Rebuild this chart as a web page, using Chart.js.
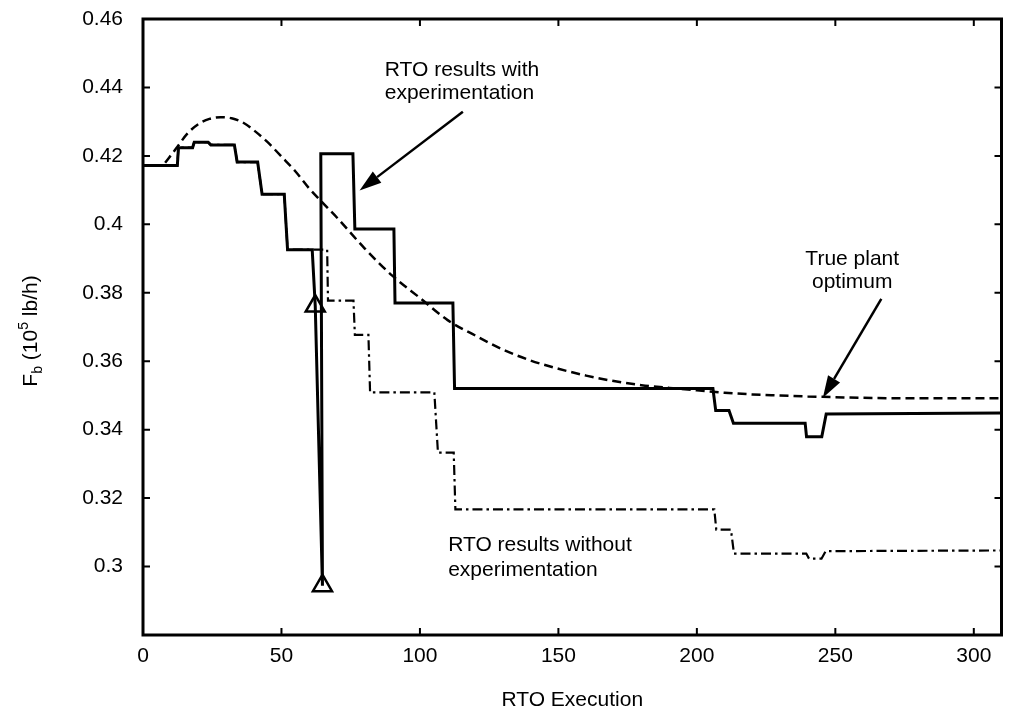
<!DOCTYPE html>
<html>
<head>
<meta charset="utf-8">
<title>RTO execution</title>
<script src="https://cdn.jsdelivr.net/npm/chart.js@4/dist/chart.umd.min.js"></script>
<style>
  body { margin: 0; background: #fff; }
  #wrap { width: 1015px; height: 717px; }
</style>
</head>
<body>
<div id="wrap"><canvas id="myChart" width="1015" height="717"></canvas></div>
<script>
const FONT = '"Liberation Sans", Arial, sans-serif';

// RTO results with experimentation (solid)
const withExpX = [0, 12.4, 12.8, 17.9, 18.5, 23.5, 24.5, 33, 34, 41.4, 43, 51, 52.2, 61.1, 62.2, 64.8, 64.2, 75.8, 76.5, 90.6, 91, 111.9, 112.5, 205.8, 206.8, 211.6, 213.2, 239.1, 239.6, 245.1, 246.7, 310];
const withExpY = [0.4172, 0.4172, 0.4224, 0.4224, 0.424, 0.424, 0.4232, 0.4232, 0.4182, 0.4182, 0.4088, 0.4088, 0.3926, 0.3926, 0.3761, 0.2944, 0.4206, 0.4206, 0.3986, 0.3986, 0.377, 0.377, 0.352, 0.352, 0.3456, 0.3456, 0.3419, 0.3419, 0.3379, 0.3379, 0.3446, 0.3449];

// RTO results without experimentation (dash-dot)
const noExpX = [0, 12.4, 12.8, 17.9, 18.5, 23.5, 24.5, 33, 34, 41.4, 43, 51, 52.2, 66.5, 66.8, 76, 76.5, 81.4, 82, 105.2, 106.5, 112.2, 112.8, 206.3, 207, 212.3, 213.4, 239.5, 240.5, 245, 246.5, 310];
const noExpY = [0.4172, 0.4172, 0.4224, 0.4224, 0.424, 0.424, 0.4232, 0.4232, 0.4182, 0.4182, 0.4088, 0.4088, 0.3926, 0.3926, 0.3777, 0.3777, 0.3677, 0.3677, 0.3509, 0.3509, 0.3333, 0.3333, 0.3167, 0.3167, 0.3108, 0.3108, 0.3038, 0.3038, 0.3023, 0.3023, 0.3045, 0.3047];

// true plant optimum (dashed)
const optX = [8, 12, 16, 20, 24, 28, 32, 36, 40, 45, 50, 55, 60, 65, 70, 80, 90, 100, 110, 120, 130, 140, 150, 160, 170, 180, 190, 200, 210, 220, 230, 240, 250, 260, 270, 280, 290, 300, 310];
const optY = [0.4180, 0.4222, 0.4265, 0.4293, 0.4308, 0.4313, 0.4310, 0.4298, 0.4275, 0.4240, 0.4198, 0.4155, 0.4105, 0.4062, 0.4020, 0.3930, 0.3850, 0.3785, 0.3720, 0.3675, 0.3634, 0.3602, 0.3578, 0.3558, 0.3542, 0.3530, 0.3522, 0.3515, 0.3508, 0.3503, 0.3500, 0.3497, 0.3495, 0.3493, 0.3492, 0.3492, 0.3492, 0.3492, 0.3492];

// experimentation points
const markerX = [62.2, 64.8];
const markerY = [0.3761, 0.2944];

// annotation text and arrows, in data units
const notes = [
    { lines: ['RTO results with', 'experimentation'], x: 87.3, y: [0.4434, 0.4367], align: 'left' },
    { lines: ['True plant', 'optimum'], x: 256.1, y: [0.3882, 0.3815], align: 'center' },
    { lines: ['RTO results without', 'experimentation'], x: 110.2, y: [0.3044, 0.2971], align: 'left' }
];
const arrows = [
    { from: [115.5, 0.4329], to: [78.2, 0.4099] },
    { from: [266.6, 0.3782], to: [245.5, 0.3493] }
];

function toPoints(xs, ys) {
    return xs.map((x, i) => ({ x, y: ys[i] }));
}

function drawArrow(ctx, x1, y1, x2, y2) {
    const ang = Math.atan2(y2 - y1, x2 - x1);
    const len = 22, half = 7;
    const bx = x2 - len * Math.cos(ang), by = y2 - len * Math.sin(ang);
    ctx.lineWidth = 2.5;
    ctx.beginPath();
    ctx.moveTo(x1, y1);
    ctx.lineTo(bx, by);
    ctx.stroke();
    ctx.beginPath();
    ctx.moveTo(x2, y2);
    ctx.lineTo(bx + half * Math.sin(ang), by - half * Math.cos(ang));
    ctx.lineTo(bx - half * Math.sin(ang), by + half * Math.cos(ang));
    ctx.closePath();
    ctx.fill();
}

const frame = {
    id: 'frame',
    afterDatasetsDraw(chart) {
        const { ctx, chartArea: a, scales: { x, y } } = chart;
        ctx.save();
        ctx.strokeStyle = '#000';
        ctx.fillStyle = '#000';

        // box and inward ticks
        ctx.lineWidth = 3;
        ctx.strokeRect(a.left, a.top, a.right - a.left, a.bottom - a.top);
        ctx.lineWidth = 2;
        ctx.beginPath();
        x.ticks.forEach(t => {
            const px = x.getPixelForValue(t.value);
            ctx.moveTo(px, a.bottom); ctx.lineTo(px, a.bottom - 7);
            ctx.moveTo(px, a.top); ctx.lineTo(px, a.top + 7);
        });
        y.ticks.forEach(t => {
            const py = y.getPixelForValue(t.value);
            ctx.moveTo(a.left, py); ctx.lineTo(a.left + 7, py);
            ctx.moveTo(a.right, py); ctx.lineTo(a.right - 7, py);
        });
        ctx.stroke();

        arrows.forEach(ar => {
            drawArrow(ctx,
                x.getPixelForValue(ar.from[0]), y.getPixelForValue(ar.from[1]),
                x.getPixelForValue(ar.to[0]), y.getPixelForValue(ar.to[1]));
        });

        ctx.font = '21px ' + FONT;
        ctx.textBaseline = 'alphabetic';
        notes.forEach(n => {
            ctx.textAlign = n.align;
            n.lines.forEach((s, i) => {
                ctx.fillText(s, x.getPixelForValue(n.x), y.getPixelForValue(n.y[i]));
            });
        });

        // y axis title with subscript and superscript
        const parts = [
            { t: 'F', size: 21, dy: 0 },
            { t: 'b', size: 14, dy: 5 },
            { t: ' (10', size: 21, dy: 0 },
            { t: '5', size: 14, dy: -9 },
            { t: ' lb/h)', size: 21, dy: 0 }
        ];
        let total = 0;
        parts.forEach(p => {
            ctx.font = p.size + 'px ' + FONT;
            p.w = ctx.measureText(p.t).width;
            total += p.w;
        });
        ctx.translate(36.5, (a.top + a.bottom) / 2 + 4);
        ctx.rotate(-Math.PI / 2);
        ctx.textAlign = 'left';
        let cx = -total / 2;
        parts.forEach(p => {
            ctx.font = p.size + 'px ' + FONT;
            ctx.fillText(p.t, cx, p.dy);
            cx += p.w;
        });
        ctx.restore();
    }
};

const ctx = document.getElementById('myChart').getContext('2d');
new Chart(ctx, {
    type: 'line',
    data: {
        datasets: [
            {
                label: 'markers',
                data: toPoints(markerX, markerY),
                showLine: false,
                pointStyle: 'triangle',
                pointRadius: 11,
                borderColor: '#000',
                backgroundColor: 'rgba(0,0,0,0)',
                pointBorderWidth: 2.5
            },
            {
                label: 'RTO results with experimentation',
                data: toPoints(withExpX, withExpY),
                borderColor: '#000',
                borderWidth: 3,
                pointRadius: 0,
                tension: 0,
                borderJoinStyle: 'miter'
            },
            {
                label: 'True plant optimum',
                data: toPoints(optX, optY),
                borderColor: '#000',
                borderWidth: 2.5,
                borderDash: [9, 5],
                pointRadius: 0,
                cubicInterpolationMode: 'monotone'
            },
            {
                label: 'RTO results without experimentation',
                data: toPoints(noExpX, noExpY),
                borderColor: '#000',
                borderWidth: 2.2,
                borderDash: [10, 4, 2.5, 4],
                pointRadius: 0,
                tension: 0
            }
        ]
    },
    options: {
        responsive: false,
        animation: false,
        events: [],
        layout: { padding: { top: 19, right: 6, left: 0, bottom: 0 } },
        plugins: { legend: { display: false }, tooltip: { enabled: false } },
        scales: {
            x: {
                type: 'linear',
                min: 0,
                max: 310,
                grid: { display: false, drawTicks: false },
                border: { display: false },
                ticks: {
                    stepSize: 50,
                    includeBounds: false,
                    color: '#000',
                    padding: 9,
                    maxRotation: 0,
                    font: { family: FONT, size: 21 }
                },
                title: {
                    display: true,
                    text: 'RTO Execution',
                    color: '#000',
                    font: { family: FONT, size: 21 },
                    padding: { top: 0, bottom: 4 }
                },
                afterFit: s => {
                    s.height = 82;
                    s.paddingLeft = 0;
                    s.paddingRight = 0;
                }
            },
            y: {
                min: 0.28,
                max: 0.46,
                grid: { display: false, drawTicks: false },
                border: { display: false },
                ticks: {
                    stepSize: 0.02,
                    includeBounds: false,
                    color: '#000',
                    padding: 20,
                    font: { family: FONT, size: 21 },
                    callback: v => v < 0.29 ? '' : String(parseFloat(v.toFixed(2)))
                },
                afterFit: s => {
                    s.width = 143;
                    s.paddingTop = 0;
                    s.paddingBottom = 0;
                }
            }
        }
    },
    plugins: [frame]
});
</script>
</body>
</html>
